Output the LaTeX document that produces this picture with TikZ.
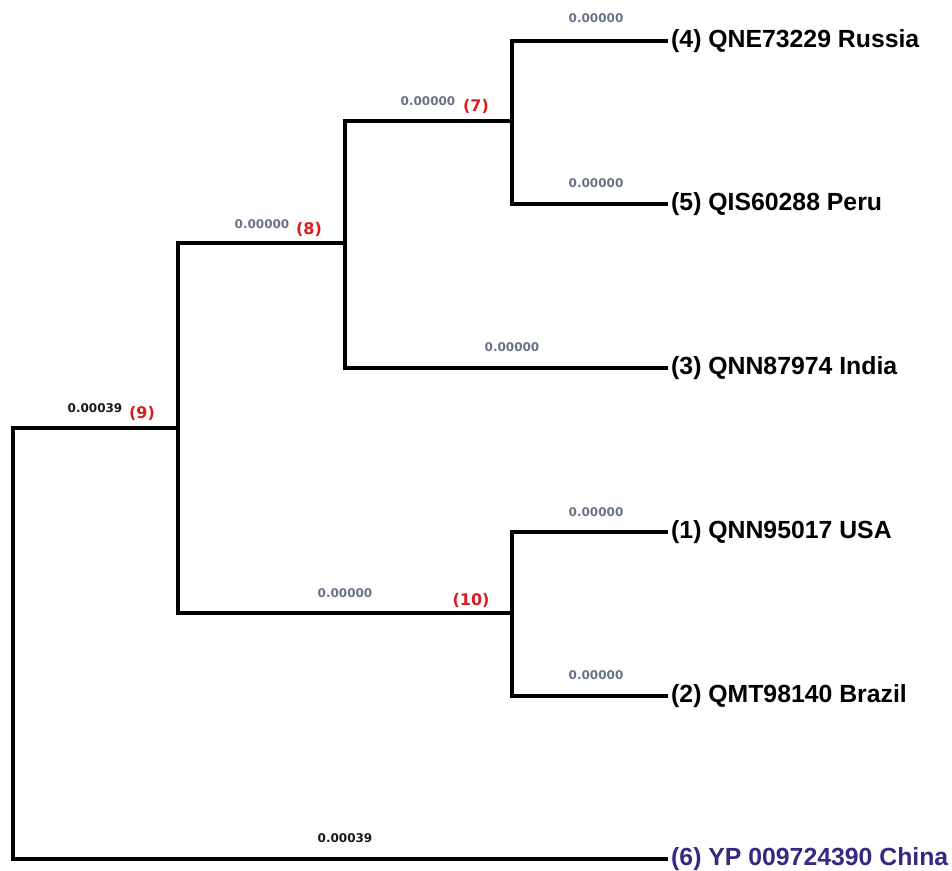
\documentclass[tikz,border=0pt]{standalone}
\usepackage{fontspec}
\newfontfamily\leaffont{Liberation Sans}
\newfontfamily\valfont{DejaVu Sans}
\definecolor{valgray}{RGB}{105,115,135}
\definecolor{nodered}{RGB}{215,30,30}
\definecolor{chinablue}{RGB}{55,40,130}
\definecolor{valblack}{RGB}{25,25,25}
\tikzset{
  branch/.style={line width=3.5pt, line join=miter},
  leaf/.style={anchor=west, inner sep=3pt, font=\leaffont\bfseries\fontsize{24.8}{28}\selectfont, text=black},
  blen/.style={inner sep=0pt, font=\valfont\bfseries\fontsize{12}{14}\selectfont, text=valgray},
  blenblack/.style={blen, text=valblack},
  nlab/.style={inner sep=0pt, font=\valfont\bfseries\fontsize{16}{18}\selectfont, text=nodered}
}
\begin{document}
\begin{tikzpicture}[x=1pt,y=-1pt]
\useasboundingbox (0,0) rectangle (952,870);
% internal nodes
\coordinate (root) at (13,643);
\coordinate (n9) at (178,428);
\coordinate (n8) at (345,243);
\coordinate (n7) at (512,121);
\coordinate (n10) at (512,613);
% leaves
\node[leaf] (russia) at (668,41) {(4) QNE73229 Russia};
\node[leaf] (peru) at (668,204) {(5) QIS60288 Peru};
\node[leaf] (india) at (668,368) {(3) QNN87974 India};
\node[leaf] (usa) at (668,532) {(1) QNN95017 USA};
\node[leaf] (brazil) at (668,696) {(2) QMT98140 Brazil};
\node[leaf, text=chinablue] (china) at (668,859) {(6) YP 009724390 China};
% branches
\draw[branch] (root) |- (n9);
\draw[branch] (root) |- (china.west);
\draw[branch] (n9) |- (n8);
\draw[branch] (n9) |- (n10);
\draw[branch] (n8) |- (n7);
\draw[branch] (n8) |- (india.west);
\draw[branch] (n7) |- (russia.west);
\draw[branch] (n7) |- (peru.west);
\draw[branch] (n10) |- (usa.west);
\draw[branch] (n10) |- (brazil.west);
% branch lengths
\node[blen] (bRussia) at (596,18) {0.00000};
\node[blen] (bPeru) at (596,183) {0.00000};
\node[blen] (b7) at (428,101) {0.00000};
\node[nlab] (l7) at (476,106) {(7)};
\node[blen] (b8) at (262,224) {0.00000};
\node[nlab] (l8) at (309,229) {(8)};
\node[blen] (bIndia) at (512,347) {0.00000};
\node[blenblack] (b9) at (95,408) {0.00039};
\node[nlab] (l9) at (142,413) {(9)};
\node[blen] (b10) at (345,593) {0.00000};
\node[nlab] (l10) at (471,600) {(10)};
\node[blen] (bUSA) at (596,512) {0.00000};
\node[blen] (bBrazil) at (596,675) {0.00000};
\node[blenblack] (bChina) at (345,838) {0.00039};
\end{tikzpicture}
\end{document}
